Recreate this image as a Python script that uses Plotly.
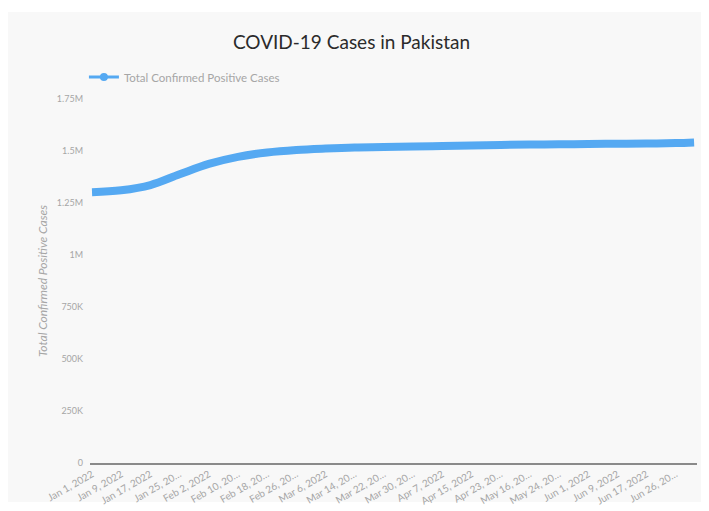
import pandas as pd
import plotly.graph_objects as go

# ---- data ----
# daily report dates present in the source (categories on the x axis)
all_dates = (
    list(pd.date_range("2022-01-01", "2022-04-30"))
    + [d for d in pd.date_range("2022-05-16", "2022-06-30") if d != pd.Timestamp("2022-06-19")]
    + [pd.Timestamp("2022-07-01")]
)
categories = [d.strftime("%Y-%m-%d") for d in all_dates]

tick_dates = [
    "2022-01-01", "2022-01-09", "2022-01-17", "2022-01-25", "2022-02-02",
    "2022-02-10", "2022-02-18", "2022-02-26", "2022-03-06", "2022-03-14",
    "2022-03-22", "2022-03-30", "2022-04-07", "2022-04-15", "2022-04-23",
    "2022-05-16", "2022-05-24", "2022-06-01", "2022-06-09", "2022-06-17",
    "2022-06-26",
]
tick_labels = [
    "Jan 1, 2022", "Jan 9, 2022", "Jan 17, 2022", "Jan 25, 20…", "Feb 2, 2022",
    "Feb 10, 20…", "Feb 18, 20…", "Feb 26, 20…", "Mar 6, 2022", "Mar 14, 20…",
    "Mar 22, 20…", "Mar 30, 20…", "Apr 7, 2022", "Apr 15, 2022", "Apr 23, 20…",
    "May 16, 20…", "May 24, 20…", "Jun 1, 2022", "Jun 9, 2022", "Jun 17, 2022",
    "Jun 26, 20…",
]

series_dates = tick_dates + ["2022-07-01"]
total_cases = [
    1302000, 1311000, 1336000, 1388000, 1438000,
    1472000, 1493000, 1505000, 1512000, 1517000,
    1519000, 1522000, 1524000, 1526000, 1529000,
    1531000, 1532000, 1534000, 1535000, 1536000,
    1538000, 1541000,
]

y_ticks = [0, 250000, 500000, 750000, 1000000, 1250000, 1500000, 1750000]
y_tick_labels = ["0", "250K", "500K", "750K", "1M", "1.25M", "1.5M", "1.75M"]

# ---- figure ----
pos = {c: i for i, c in enumerate(categories)}
x_vals = [pos[d] for d in series_dates]
tick_pos = [pos[d] for d in tick_dates]

BLUE = "#55a9f2"
GREY = "#a6a6a6"

fig = go.Figure()
fig.add_trace(go.Scatter(
    x=x_vals, y=total_cases, mode="lines",
    line=dict(color=BLUE, width=8, shape="spline", smoothing=1.0),
    showlegend=False, hoverinfo="y",
))
fig.add_trace(go.Scatter(
    x=[None], y=[None], mode="lines+markers",
    name="Total Confirmed Positive Cases",
    line=dict(color=BLUE, width=3), marker=dict(color=BLUE, size=8),
))

fig.add_shape(type="rect", xref="paper", yref="paper",
              x0=-0.1351, x1=1.033, y0=-0.107, y1=1.239,
              fillcolor="#f8f8f8", line=dict(width=0), layer="below")

fig.update_layout(
    width=709, height=511,
    margin=dict(l=82, r=20, t=91, b=56, autoexpand=False),
    paper_bgcolor="white", plot_bgcolor="rgba(0,0,0,0)",
    font=dict(family="Lato", color=GREY, size=9),
    title=dict(text="COVID-19 Cases in Pakistan", x=0.4845, xanchor="center",
               xref="container", yref="container",
               y=(511 - 34) / 511, yanchor="middle",
               font=dict(family="Lato", size=19, color="#2b2b2b")),
    legend=dict(orientation="h", x=-0.01, xanchor="left",
                yref="container", y=(511 - 69) / 511, yanchor="middle",
                bgcolor="rgba(0,0,0,0)", font=dict(size=11.5, color=GREY),
                itemwidth=30),
    xaxis=dict(
        range=[-0.55, len(categories) - 1 + 0.8], automargin=False,
        tickmode="array", tickvals=tick_pos, ticktext=tick_labels,
        tickangle=-30, showgrid=False, zeroline=False,
        showline=True, linecolor="#8a8a8a", linewidth=1.5,
        ticks="", tickfont=dict(size=10, color=GREY),
    ),
    yaxis=dict(
        range=[0, 1750000], tickmode="array", tickvals=y_ticks, automargin=False,
        ticktext=y_tick_labels, showgrid=False, zeroline=False,
        showline=False, ticks="", ticklabelstandoff=6,
        tickfont=dict(size=9, color=GREY),
        title=dict(text="<i>Total Confirmed Positive Cases</i>",
                   font=dict(size=12, color=GREY), standoff=6),
    ),
)

fig.write_html("out.html")
